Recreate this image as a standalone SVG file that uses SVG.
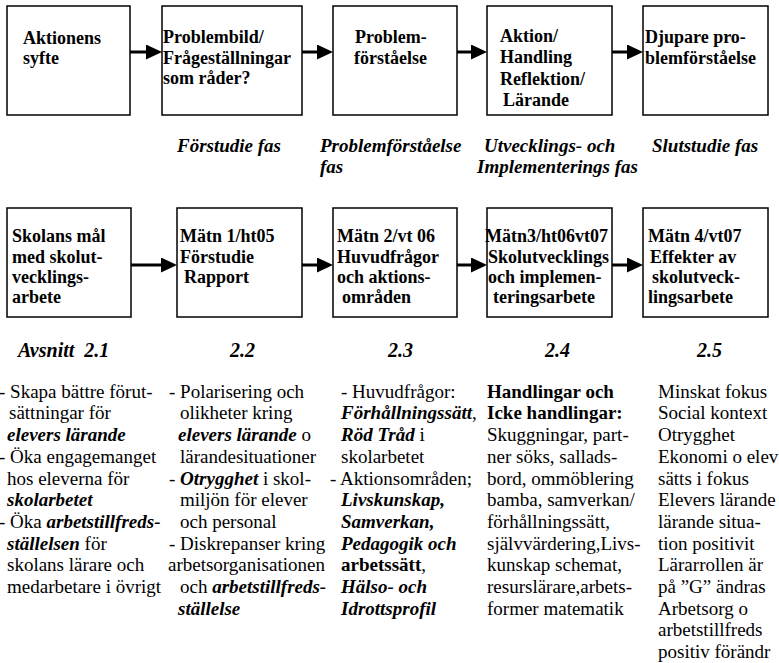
<svg xmlns="http://www.w3.org/2000/svg" width="779" height="663" viewBox="0 0 779 663">
  <style>
    .box { fill: #ffffff; stroke: #000000; stroke-width: 1.5; }
    text { font-family: "Liberation Serif", Tinos, "Times New Roman", Times, "DejaVu Serif", serif; fill: #000; }
    .hd { font-size: 18px; font-weight: bold; }
    .ph { font-size: 19px; font-weight: bold; font-style: italic; }
    .sec { font-size: 20px; font-weight: bold; font-style: italic; }
    .body { font-size: 19px; }
    .bi { font-weight: bold; font-style: italic; }
    .b { font-weight: bold; }
    .conn { stroke: #000000; stroke-width: 3; fill: none; marker-end: url(#head); }
  </style>
  <defs>
    <marker id="head" markerUnits="userSpaceOnUse" viewBox="0 0 16 15" refX="8" refY="7.5" markerWidth="16" markerHeight="15" orient="auto">
      <path d="M0,0 L16,7.5 L0,15 Z" fill="#000000"/>
    </marker>
  </defs>

  <rect width="779" height="663" fill="#ffffff"/>

  <!-- process steps, top row -->
  <g id="step-syfte">
    <rect class="box" x="7" y="6" width="123" height="109"/>
    <text class="hd"><tspan x="23" y="44">Aktionens</tspan><tspan x="23" y="64">syfte</tspan></text>
  </g>
  <g id="step-problembild">
    <rect class="box" x="162" y="6" width="140" height="109"/>
    <text class="hd"><tspan x="163" y="43">Problembild/</tspan><tspan x="163" y="63.5">Frågeställningar</tspan><tspan x="163" y="84">som råder?</tspan></text>
  </g>
  <g id="step-problemforstaelse">
    <rect class="box" x="333" y="6" width="124" height="109"/>
    <text class="hd"><tspan x="355" y="43">Problem-</tspan><tspan x="354" y="63.5">förståelse</tspan></text>
  </g>
  <g id="step-aktion">
    <rect class="box" x="487" y="6" width="125" height="109"/>
    <text class="hd"><tspan x="500" y="42">Aktion/</tspan><tspan x="500" y="63">Handling</tspan><tspan x="500" y="85">Reflektion/</tspan><tspan x="503" y="106">Lärande</tspan></text>
  </g>
  <g id="step-djupare">
    <rect class="box" x="643" y="6" width="125" height="109"/>
    <text class="hd"><tspan x="645" y="43">Djupare pro-</tspan><tspan x="645" y="63.5">blemförståelse</tspan></text>
  </g>

  <!-- phase names -->
  <g id="phases">
    <text class="ph" x="177" y="152">Förstudie fas</text>
    <text class="ph"><tspan x="320" y="152">Problemförståelse</tspan><tspan x="320" y="173">fas</tspan></text>
    <text class="ph"><tspan x="484" y="152">Utvecklings- och</tspan><tspan x="477" y="173">Implementerings fas</tspan></text>
    <text class="ph" x="652" y="152">Slutstudie fas</text>
  </g>

  <!-- measurement steps, second row -->
  <g id="step-mal">
    <rect class="box" x="7" y="208" width="124" height="109"/>
    <text class="hd"><tspan x="12" y="242">Skolans mål</tspan><tspan x="12" y="262.5">med skolut-</tspan><tspan x="12" y="283">vecklings-</tspan><tspan x="12" y="303">arbete</tspan></text>
  </g>
  <g id="step-matn1">
    <rect class="box" x="177" y="208" width="125" height="109"/>
    <text class="hd"><tspan x="180" y="242">Mätn 1/ht05</tspan><tspan x="180" y="262.5">Förstudie</tspan><tspan x="184" y="283">Rapport</tspan></text>
  </g>
  <g id="step-matn2">
    <rect class="box" x="333" y="208" width="124" height="109"/>
    <text class="hd"><tspan x="337" y="242">Mätn 2/vt 06</tspan><tspan x="337" y="262.5">Huvudfrågor</tspan><tspan x="337" y="283">och aktions-</tspan><tspan x="342" y="303">områden</tspan></text>
  </g>
  <g id="step-matn3">
    <rect class="box" x="487" y="208" width="125" height="109"/>
    <text class="hd"><tspan x="485" y="242">Mätn3/ht06vt07</tspan><tspan x="488" y="262.5">Skolutvecklings</tspan><tspan x="488" y="283">och implemen-</tspan><tspan x="493" y="303">teringsarbete</tspan></text>
  </g>
  <g id="step-matn4">
    <rect class="box" x="643" y="208" width="125" height="109"/>
    <text class="hd"><tspan x="648" y="242">Mätn 4/vt07</tspan><tspan x="650" y="262.5">Effekter av</tspan><tspan x="652" y="283">skolutveck-</tspan><tspan x="648" y="303">lingsarbete</tspan></text>
  </g>

  <!-- connectors -->
  <g id="connectors">
    <line class="conn" x1="130" y1="52" x2="154" y2="52"/>
    <line class="conn" x1="302" y1="52" x2="325" y2="52"/>
    <line class="conn" x1="457" y1="52" x2="479" y2="52"/>
    <line class="conn" x1="612" y1="52" x2="635" y2="52"/>
    <line class="conn" x1="131" y1="265" x2="169" y2="265"/>
    <line class="conn" x1="302" y1="265" x2="325" y2="265"/>
    <line class="conn" x1="457" y1="265" x2="479" y2="265"/>
    <line class="conn" x1="612" y1="265" x2="635" y2="265"/>
  </g>

  <!-- section numbers -->
  <g id="sections">
    <text class="sec" x="18" y="357" xml:space="preserve">Avsnitt  2.1</text>
    <text class="sec" x="230" y="357">2.2</text>
    <text class="sec" x="388" y="357">2.3</text>
    <text class="sec" x="545" y="357">2.4</text>
    <text class="sec" x="697" y="357">2.5</text>
  </g>

  <!-- column notes -->
  <g id="notes-2-1">
    <text class="body" x="-1" y="397.7">- Skapa bättre förut-</text>
    <text class="body" x="9" y="419.4">sättningar för</text>
    <text class="body bi" x="7" y="441.1">elevers lärande</text>
    <text class="body" x="-1" y="462.8">- Öka engagemanget</text>
    <text class="body" x="7" y="484.5">hos eleverna för</text>
    <text class="body bi" x="7" y="506.2">skolarbetet</text>
    <text class="body" x="-1" y="527.9">- Öka <tspan class="bi">arbetstillfreds-</tspan></text>
    <text class="body" x="7" y="549.6"><tspan class="bi">ställelsen</tspan> för</text>
    <text class="body" x="7" y="571.3">skolans lärare och</text>
    <text class="body" x="7" y="593">medarbetare i övrigt</text>
  </g>
  <g id="notes-2-2">
    <text class="body" x="169" y="397.7">- Polarisering och</text>
    <text class="body" x="180" y="419.4">olikheter kring</text>
    <text class="body" x="178" y="441.1"><tspan class="bi">elevers lärande</tspan> o</text>
    <text class="body" x="180" y="462.8">lärandesituationer</text>
    <text class="body" x="169" y="484.5">- <tspan class="bi">Otrygghet</tspan> i skol-</text>
    <text class="body" x="180" y="506.2">miljön för elever</text>
    <text class="body" x="180" y="527.9">och personal</text>
    <text class="body" x="169" y="549.6">- Diskrepanser kring</text>
    <text class="body" x="168" y="571.3">arbetsorganisationen</text>
    <text class="body" x="180" y="593">och <tspan class="bi">arbetstillfreds-</tspan></text>
    <text class="body bi" x="178" y="614.7">ställelse</text>
  </g>
  <g id="notes-2-3">
    <text class="body" x="341" y="397.7">- Huvudfrågor:</text>
    <text class="body" x="341" y="419.4"><tspan class="bi">Förhållningssätt</tspan>,</text>
    <text class="body" x="341" y="441.1"><tspan class="bi">Röd Tråd</tspan> i</text>
    <text class="body" x="341" y="462.8">skolarbetet</text>
    <text class="body" x="330" y="484.5">- Aktionsområden;</text>
    <text class="body bi" x="341" y="506.2">Livskunskap,</text>
    <text class="body bi" x="341" y="527.9">Samverkan,</text>
    <text class="body bi" x="341" y="549.6">Pedagogik och</text>
    <text class="body" x="341" y="571.3"><tspan class="b">arbetssätt</tspan>,</text>
    <text class="body bi" x="341" y="593">Hälso- och</text>
    <text class="body bi" x="341" y="614.7">Idrottsprofil</text>
  </g>
  <g id="notes-2-4">
    <text class="body b" x="487" y="397.7">Handlingar och</text>
    <text class="body b" x="487" y="419.4">Icke handlingar:</text>
    <text class="body" x="487" y="441.1">Skuggningar, part-</text>
    <text class="body" x="487" y="462.8">ner söks, sallads-</text>
    <text class="body" x="487" y="484.5">bord, ommöblering</text>
    <text class="body" x="487" y="506.2">bamba, samverkan/</text>
    <text class="body" x="487" y="527.9">förhållningssätt,</text>
    <text class="body" x="487" y="549.6">självvärdering,Livs-</text>
    <text class="body" x="487" y="571.3">kunskap schemat,</text>
    <text class="body" x="487" y="593">resurslärare,arbets-</text>
    <text class="body" x="487" y="614.7">former matematik</text>
  </g>
  <g id="notes-2-5">
    <text class="body" x="658" y="397.7">Minskat fokus</text>
    <text class="body" x="658" y="419.4">Social kontext</text>
    <text class="body" x="658" y="441.1">Otrygghet</text>
    <text class="body" x="658" y="462.8">Ekonomi o elev</text>
    <text class="body" x="658" y="484.5">sätts i fokus</text>
    <text class="body" x="658" y="506.2">Elevers lärande</text>
    <text class="body" x="658" y="527.9">lärande situa-</text>
    <text class="body" x="658" y="549.6">tion positivit</text>
    <text class="body" x="658" y="571.3">Lärarrollen är</text>
    <text class="body" x="658" y="593">på ”G” ändras</text>
    <text class="body" x="658" y="614.7">Arbetsorg o</text>
    <text class="body" x="658" y="636.4">arbetstillfreds</text>
    <text class="body" x="658" y="658.1">positiv förändr</text>
  </g>
</svg>
